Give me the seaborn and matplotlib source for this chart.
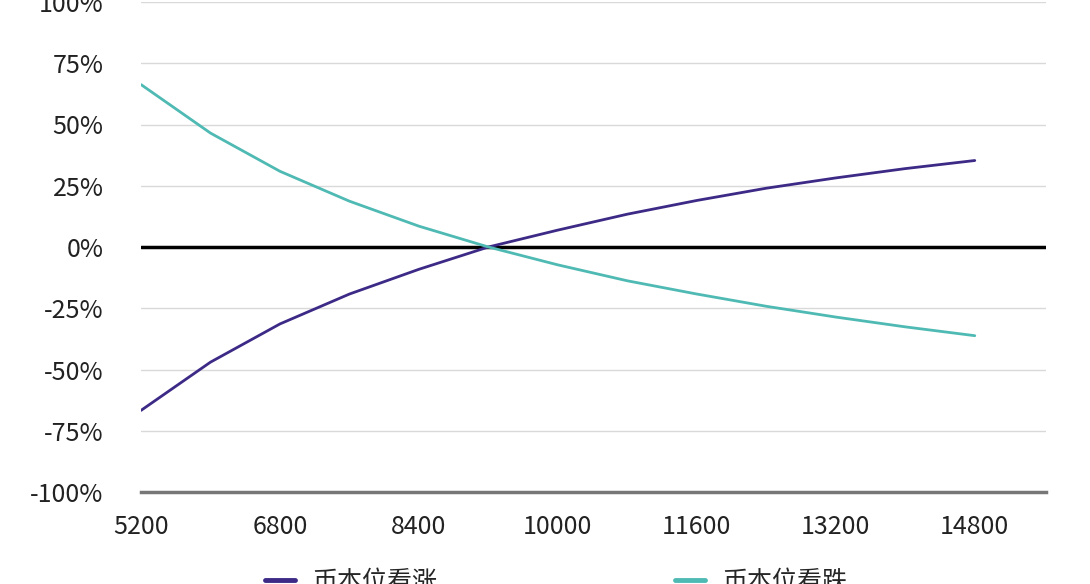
import matplotlib.pyplot as plt
import seaborn as sns
import pandas as pd
from matplotlib.ticker import FuncFormatter, MultipleLocator

# values
prices = [5200, 6000, 6800, 7600, 8400, 9200, 10000, 10800, 11600, 12400, 13200, 14000, 14800]
call_coin = [-0.667, -0.470, -0.314, -0.192, -0.091, 0.0, 0.069, 0.134, 0.190, 0.240, 0.282, 0.320, 0.353]
put_coin = [0.663, 0.465, 0.309, 0.187, 0.085, 0.0, -0.073, -0.138, -0.192, -0.242, -0.286, -0.326, -0.362]
series_names = ["币本位看涨", "币本位看跌"]
x_ticks = [5200, 6800, 8400, 10000, 11600, 13200, 14800]

df = pd.DataFrame({
    "price": prices * 2,
    "ret": call_coin + put_coin,
    "series": [series_names[0]] * len(prices) + [series_names[1]] * len(prices),
})

sns.set_style("white")
plt.rcParams['font.family'] = ['Noto Sans CJK SC', 'DejaVu Sans']
plt.rcParams['font.weight'] = 'light'

fig = plt.figure(figsize=(10.9, 5.84), dpi=100)
ax = fig.add_axes([141 / 1090, 1 - 492 / 584, (1046 - 141) / 1090, 490 / 584])

palette = {series_names[0]: '#3d2a86', series_names[1]: '#4fbab3'}
sns.lineplot(data=df, x="price", y="ret", hue="series", palette=palette,
             linewidth=2.0, ax=ax, legend=False, zorder=3)

ax.set_xlim(5200, 15620)
ax.set_ylim(-1.0, 1.0)
ax.set_xticks(x_ticks)
ax.yaxis.set_major_locator(MultipleLocator(0.25))
ax.yaxis.set_major_formatter(FuncFormatter(lambda v, p: f"{v * 100:.0f}%"))
ax.grid(axis='y', color='#d9d9d9', linewidth=1)
ax.axhline(0, color='black', linewidth=2.5, zorder=2)
for s in ['top', 'right', 'left']:
    ax.spines[s].set_visible(False)
ax.spines['bottom'].set_color('#777777')
ax.spines['bottom'].set_linewidth(2.5)
ax.set_xlabel('')
ax.set_ylabel('')
ax.tick_params(axis='both', length=0, labelsize=18, colors='#222222')
ax.tick_params(axis='y', pad=27)
ax.tick_params(axis='x', pad=16)

handles = [plt.Line2D([], [], color=palette[n], linewidth=3.5) for n in series_names]
fig.legend(handles, series_names, loc='center', bbox_to_anchor=(556 / 1090, 0.004),
           ncol=2, frameon=False, fontsize=18, handlelength=1.2, handletextpad=0.7,
           columnspacing=9.5)

fig.savefig('out.png', dpi=100)
